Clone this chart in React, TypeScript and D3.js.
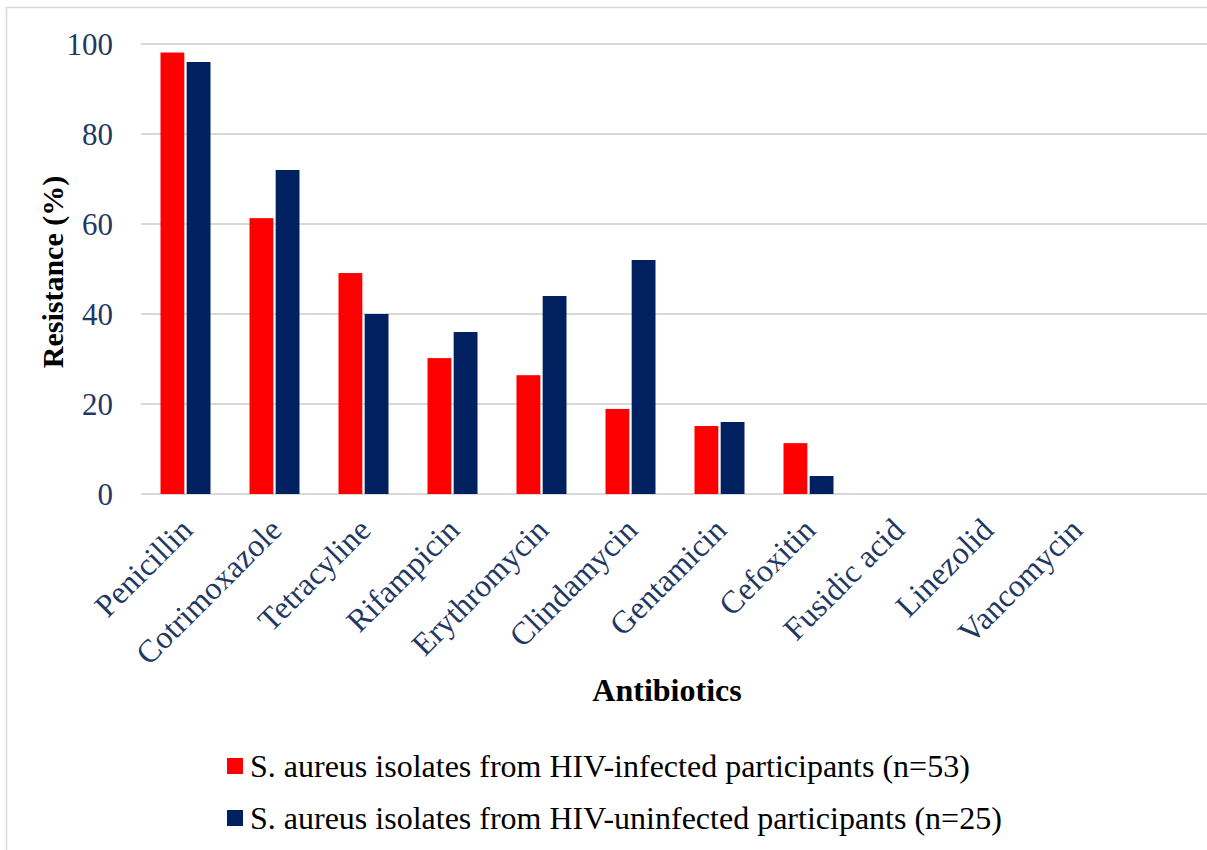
import React, { useEffect, useRef } from "react";
import * as d3 from "d3";

const categories = [
  "Penicillin",
  "Cotrimoxazole",
  "Tetracyline",
  "Rifampicin",
  "Erythromycin",
  "Clindamycin",
  "Gentamicin",
  "Cefoxitin",
  "Fusidic acid",
  "Linezolid",
  "Vancomycin",
];
const hivInfected = [98.1, 61.3, 49.1, 30.2, 26.4, 18.9, 15.1, 11.3, 0, 0, 0];
const hivUninfected = [96, 72, 40, 36, 44, 52, 16, 4, 0, 0, 0];
const seriesNames = [
  "S. aureus isolates from HIV-infected participants (n=53)",
  "S. aureus isolates from HIV-uninfected participants (n=25)",
];
const seriesColors = ["#FF0000", "#002060"];
const yTicks = [0, 20, 40, 60, 80, 100];

const W = 1207;
const H = 850;
const FONT = "Liberation Serif";
const NAVY = "#1F3864";

const App = () => {
  const ref = useRef(null);

  useEffect(() => {
    const svg = d3.select(ref.current);
    svg.selectAll("*").remove();

    const left = 141;
    const top = 44;
    const bottom = 494;

    const x = d3.scaleBand().domain(categories).range([left, left + 89 * categories.length]);
    const y = d3.scaleLinear().domain([0, 100]).range([bottom, top]);
    const inner = d3.scaleBand().domain(["a", "b"]).range([-25, 25]).paddingInner(0.09);

    // outer border
    svg
      .append("rect")
      .attr("x", 6.5)
      .attr("y", 7.5)
      .attr("width", W + 20)
      .attr("height", H + 20)
      .attr("fill", "white")
      .attr("stroke", "#d9d9d9")
      .attr("stroke-width", 1.5);

    // gridlines
    svg
      .append("g")
      .selectAll("line")
      .data(yTicks)
      .join("line")
      .attr("x1", left)
      .attr("x2", W)
      .attr("y1", (d) => y(d))
      .attr("y2", (d) => y(d))
      .attr("stroke", "#d9d9d9")
      .attr("stroke-width", 2);

    // y tick labels
    svg
      .append("g")
      .selectAll("text")
      .data(yTicks)
      .join("text")
      .attr("x", 113)
      .attr("y", (d) => y(d))
      .attr("dy", "0.35em")
      .attr("text-anchor", "end")
      .attr("fill", NAVY)
      .attr("font-family", FONT)
      .attr("font-size", 31)
      .text((d) => d);

    // bars
    const series = [hivInfected, hivUninfected];
    series.forEach((vals, si) => {
      svg
        .append("g")
        .selectAll("rect")
        .data(vals)
        .join("rect")
        .attr("x", (d, i) => (x(categories[i]) as number) + x.bandwidth() / 2 + (inner(si ? "b" : "a") as number))
        .attr("width", inner.bandwidth())
        .attr("y", (d) => y(d))
        .attr("height", (d) => bottom - y(d))
        .attr("fill", seriesColors[si]);
    });

    // x labels
    svg
      .append("g")
      .selectAll("text")
      .data(categories)
      .join("text")
      .attr(
        "transform",
        (d) => `translate(${(x(d) as number) + x.bandwidth() / 2 + 1},${bottom + 30}) rotate(-45)`
      )
      .attr("text-anchor", "end")
      .attr("dy", "0.35em")
      .attr("fill", NAVY)
      .attr("font-family", FONT)
      .attr("font-size", 32)
      .text((d) => d);

    // axis titles
    svg
      .append("text")
      .attr("transform", `translate(52,${(top + bottom) / 2 + 3}) rotate(-90)`)
      .attr("text-anchor", "middle")
      .attr("dy", "0.35em")
      .attr("font-family", FONT)
      .attr("font-size", 30)
      .attr("font-weight", "bold")
      .text("Resistance (%)");

    svg
      .append("text")
      .attr("x", 667)
      .attr("y", 690)
      .attr("dy", "0.35em")
      .attr("text-anchor", "middle")
      .attr("font-family", FONT)
      .attr("font-size", 32)
      .attr("font-weight", "bold")
      .text("Antibiotics");

    // legend
    const legend = svg
      .append("g")
      .selectAll("g")
      .data(seriesNames)
      .join("g")
      .attr("transform", (d, i) => `translate(227,${766 + i * 52})`);
    legend
      .append("rect")
      .attr("x", 0)
      .attr("y", -8)
      .attr("width", 16)
      .attr("height", 16)
      .attr("fill", (d, i) => seriesColors[i]);
    legend
      .append("text")
      .attr("x", 23)
      .attr("y", 0)
      .attr("dy", "0.35em")
      .attr("font-family", FONT)
      .attr("font-size", 32)
      .text((d) => d);
  }, []);

  return (
    <svg
      ref={ref}
      width={W}
      height={H}
      style={{ position: "absolute", left: 0, top: 0, display: "block" }}
    />
  );
};

export default App;
